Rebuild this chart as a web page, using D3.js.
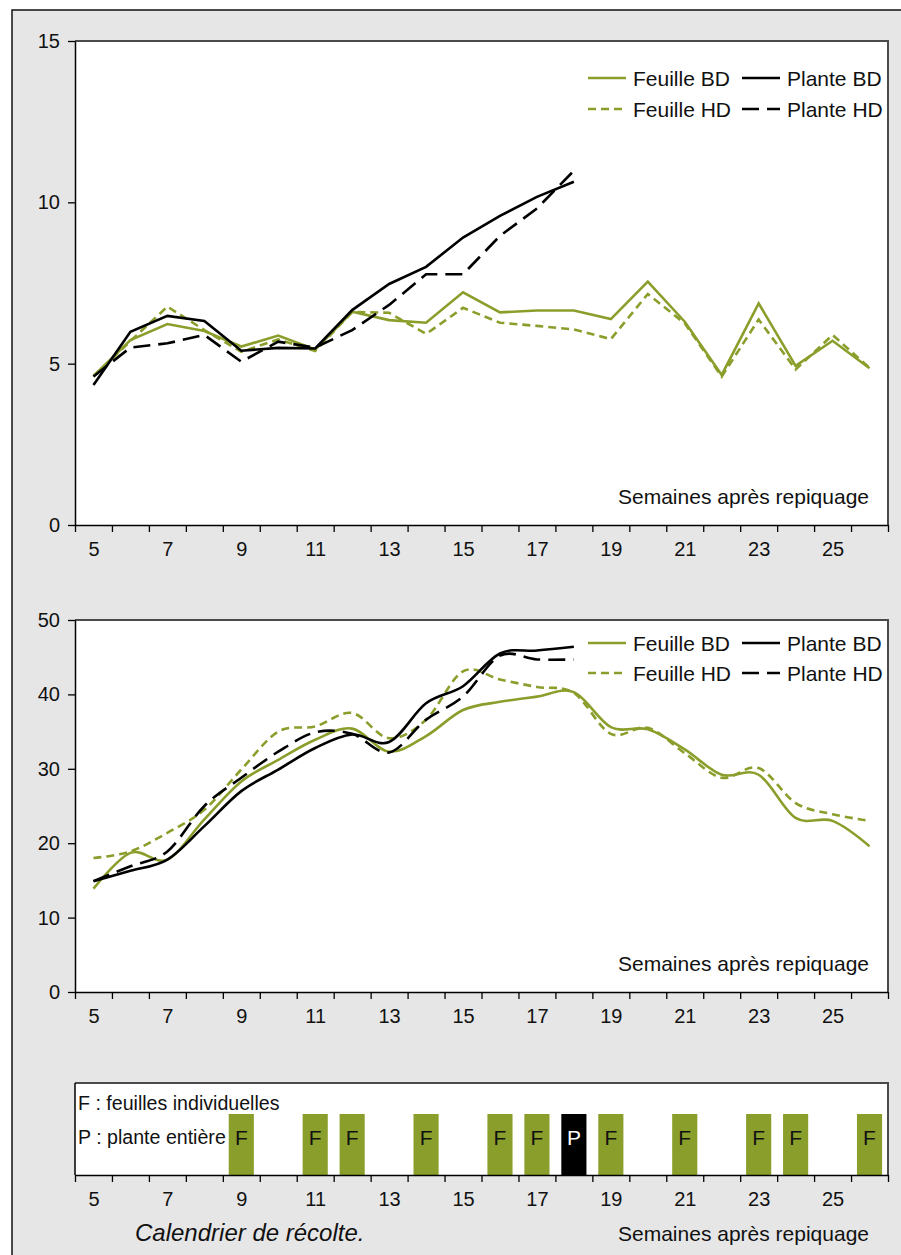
<!DOCTYPE html>
<html><head><meta charset="utf-8">
<script src="https://cdn.jsdelivr.net/npm/d3@7"></script>
<style>
html,body{margin:0;padding:0;background:#fff;}
svg text{font-family:"Liberation Sans",Arial,Helvetica,sans-serif;fill:#111;}
</style></head>
<body>
<svg id="c" width="901" height="1255"></svg>
<script>
// ---------- data ----------
const weeks = d3.range(5, 27);            // 5..26
const weeksP = d3.range(5, 19);           // 5..18
const xTickLabels = [5, 7, 9, 11, 13, 15, 17, 19, 21, 23, 25];
const yTicksTop = [0, 5, 10, 15];
const yTicksBot = [0, 10, 20, 30, 40, 50];

const feuilleBD_top = [4.62, 5.73, 6.23, 6.01, 5.53, 5.87, 5.44, 6.61, 6.35, 6.27, 7.21, 6.59, 6.65, 6.65, 6.38, 7.54, 6.30, 4.65, 6.87, 4.93, 5.71, 4.86];
const feuilleHD_top = [4.60, 5.70, 6.77, 6.04, 5.37, 5.75, 5.39, 6.60, 6.58, 5.92, 6.73, 6.27, 6.17, 6.06, 5.76, 7.16, 6.25, 4.60, 6.37, 4.82, 5.89, 4.87];
const planteBD_top  = [4.34, 5.99, 6.48, 6.32, 5.40, 5.49, 5.47, 6.66, 7.47, 8.00, 8.91, 9.58, 10.17, 10.64];
const planteHD_top  = [4.60, 5.50, 5.63, 5.89, 5.06, 5.68, 5.50, 6.04, 6.82, 7.77, 7.77, 8.96, 9.81, 10.98];

const feuilleBD_bot = [13.9, 18.7, 17.8, 23.2, 28.3, 31.2, 33.9, 35.4, 32.3, 34.4, 37.9, 39.0, 39.7, 40.3, 35.6, 35.3, 32.6, 29.2, 29.2, 23.4, 23.0, 19.6];
const feuilleHD_bot = [18.0, 18.9, 21.4, 24.5, 29.9, 35.0, 35.7, 37.5, 34.1, 36.6, 43.1, 42.0, 41.0, 40.2, 34.7, 35.5, 32.1, 28.8, 30.1, 25.4, 23.9, 23.0];
const planteBD_bot  = [14.9, 16.3, 17.8, 22.3, 27.0, 29.9, 32.8, 34.6, 33.6, 38.8, 41.1, 45.5, 45.9, 46.4];
const planteHD_bot  = [14.9, 16.9, 18.9, 25.0, 28.8, 32.3, 34.9, 34.7, 32.2, 36.6, 39.7, 45.2, 44.7, 44.7];

const harvestWeeks = [9, 11, 12, 14, 16, 17, 18, 19, 21, 23, 24, 26];
const harvestType  = ["F", "F", "F", "F", "F", "F", "P", "F", "F", "F", "F", "F"];

const legendItems = ["Feuille BD", "Plante BD", "Feuille HD", "Plante HD"];
const xTitle = "Semaines après repiquage";

// ---------- style ----------
const GREEN = "#8a9f2b";
const FS = 21;      // texts
const FT = 20;      // tick numbers
const styles = {
  "Feuille BD": {color: GREEN, dash: null},
  "Feuille HD": {color: GREEN, dash: "8,5"},
  "Plante BD":  {color: "#000", dash: null},
  "Plante HD":  {color: "#000", dash: "17,8"}
};

const svg = d3.select("#c");
svg.append("rect").attr("x", 12).attr("y", 10).attr("width", 920).attr("height", 1280)
  .attr("fill", "#e6e6e6").attr("stroke", "#111").attr("stroke-width", 1.5);

const L = 75, R = 888;
const x = d3.scaleLinear().domain([4.5, 26.5]).range([L, R]);

function plotBox(top, bottom) {
  svg.append("rect").attr("x", L).attr("y", top).attr("width", R - L).attr("height", bottom - top)
    .attr("fill", "#fff");
  svg.append("path").attr("d", `M${L},${top}H${R}V${bottom}`)
    .attr("fill", "none").attr("stroke", "#4a4a4a").attr("stroke-width", 2);
}

function xAxes(yPos, labelGap) {
  const gT = svg.append("g").attr("transform", `translate(0,${yPos})`)
    .call(d3.axisBottom(x).tickValues(d3.range(4.5, 27, 1)).tickFormat("").tickSize(7).tickSizeOuter(0));
  gT.select(".domain").attr("stroke", "#000").attr("stroke-width", 1.5);
  gT.selectAll(".tick line").attr("stroke", "#000").attr("stroke-width", 1.3);
  const gL = svg.append("g").attr("transform", `translate(0,${yPos})`)
    .call(d3.axisBottom(x).tickValues(xTickLabels).tickSize(0).tickPadding(labelGap));
  gL.select(".domain").remove();
  gL.selectAll("text").attr("font-size", FT).attr("font-family", '"Liberation Sans",Arial,sans-serif').attr("fill", "#111");
}

function yAxis(y, ticks) {
  const g = svg.append("g").attr("transform", `translate(${L},0)`)
    .call(d3.axisLeft(y).tickValues(ticks).tickSize(7).tickPadding(8).tickSizeOuter(0));
  g.select(".domain").attr("stroke", "#000").attr("stroke-width", 1.5);
  g.selectAll(".tick line").attr("stroke", "#000").attr("stroke-width", 1.3);
  g.selectAll("text").attr("font-size", FT).attr("font-family", '"Liberation Sans",Arial,sans-serif').attr("fill", "#111");
}

function drawSeries(y, wks, vals, name, curve) {
  const st = styles[name];
  const line = d3.line().x((d, i) => x(wks[i])).y(d => y(d)).curve(curve);
  svg.append("path").datum(vals).attr("d", line)
    .attr("fill", "none").attr("stroke", st.color).attr("stroke-width", 2.6)
    .attr("stroke-dasharray", st.dash).attr("stroke-linejoin", "miter");
}

function legend(y1, y2) {
  const pos = [[588, y1], [742, y1], [588, y2], [742, y2]];
  legendItems.forEach((name, i) => {
    const st = styles[name];
    const [lx, ly] = pos[i];
    svg.append("line").attr("x1", lx).attr("x2", lx + 38).attr("y1", ly).attr("y2", ly)
      .attr("stroke", st.color).attr("stroke-width", 2.6).attr("stroke-dasharray", st.dash);
    svg.append("text").attr("x", lx + 45).attr("y", ly + 7.5).attr("font-size", FS).text(name);
  });
}

// ---------- top chart ----------
const yTop = d3.scaleLinear().domain([0, 15]).range([525, 41]);
plotBox(41, 525);
svg.append("text").attr("x", 869).attr("y", 504).attr("text-anchor", "end").attr("font-size", FS).text(xTitle);
drawSeries(yTop, weeks, feuilleHD_top, "Feuille HD", d3.curveLinear);
drawSeries(yTop, weeks, feuilleBD_top, "Feuille BD", d3.curveLinear);
drawSeries(yTop, weeksP, planteHD_top, "Plante HD", d3.curveLinear);
drawSeries(yTop, weeksP, planteBD_top, "Plante BD", d3.curveLinear);
legend(78, 109);
xAxes(525, 17);
yAxis(yTop, yTicksTop);

// ---------- bottom chart ----------
const yBot = d3.scaleLinear().domain([0, 50]).range([992, 620]);
plotBox(620, 992);
svg.append("text").attr("x", 869).attr("y", 971).attr("text-anchor", "end").attr("font-size", FS).text(xTitle);
const smooth = d3.curveCardinal.tension(0);
drawSeries(yBot, weeks, feuilleHD_bot, "Feuille HD", smooth);
drawSeries(yBot, weeks, feuilleBD_bot, "Feuille BD", smooth);
drawSeries(yBot, weeksP, planteHD_bot, "Plante HD", smooth);
drawSeries(yBot, weeksP, planteBD_bot, "Plante BD", smooth);
legend(643, 673);
xAxes(992, 17);
yAxis(yBot, yTicksBot);

// ---------- calendar ----------
const cTop = 1083, cBot = 1175, barTop = 1114;
plotBox(cTop, cBot);
svg.append("line").attr("x1", L).attr("x2", L).attr("y1", cTop).attr("y2", cBot).attr("stroke", "#000").attr("stroke-width", 1.5);
const bw = 0.68;
harvestWeeks.forEach((w, i) => {
  const t = harvestType[i];
  svg.append("rect").attr("x", x(w - bw / 2)).attr("y", barTop)
    .attr("width", x(w + bw / 2) - x(w - bw / 2)).attr("height", cBot - barTop)
    .attr("fill", t === "P" ? "#000" : GREEN);
  svg.append("text").attr("x", x(w)).attr("y", 1145).attr("text-anchor", "middle")
    .attr("font-size", FS).style("fill", t === "P" ? "#fff" : "#111").text(t);
});
svg.append("text").attr("x", 78).attr("y", 1110).attr("font-size", 19.6).text("F : feuilles individuelles");
svg.append("text").attr("x", 78).attr("y", 1144).attr("font-size", 19.6).text("P : plante entière");
xAxes(cBot, 17);
svg.append("text").attr("x", 135).attr("y", 1241).attr("font-size", 24).attr("font-style", "italic").text("Calendrier de récolte.");
svg.append("text").attr("x", 869).attr("y", 1241).attr("text-anchor", "end").attr("font-size", FS).text(xTitle);
</script>
</body></html>
